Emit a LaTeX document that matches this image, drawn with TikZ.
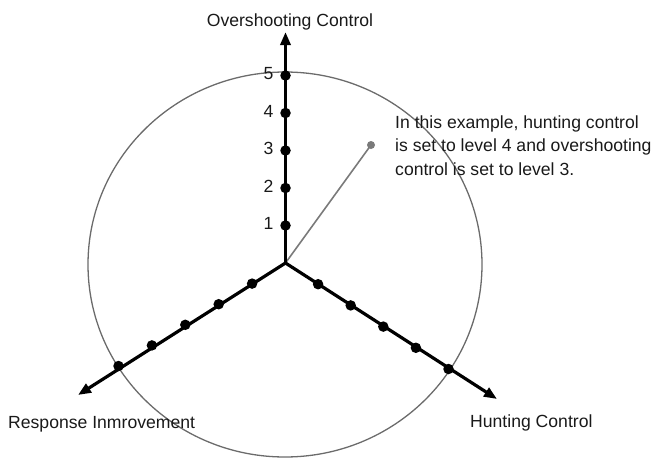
\documentclass[tikz,border=0pt]{standalone}
\usepackage{fontspec}
\setmainfont{Liberation Sans}
\usetikzlibrary{arrows.meta,calc}
\begin{document}
\begin{tikzpicture}[x=1pt,y=-1pt,
  axisline/.style={line width=3.2pt,-{Triangle[length=13pt,width=10pt]}},
  leveldot/.style={circle,fill=black,inner sep=0pt,minimum size=10.5pt},
  rim/.style={draw=black!58,line width=1.3pt},
  pointer/.style={draw=black!52,line width=1.6pt},
  label/.style={inner sep=0pt,font=\fontsize{17.6}{23.5}\selectfont,text=black!90},
]
\useasboundingbox (0,0) rectangle (656,458);

% outer rim
\draw[rim] (285,264.5) ellipse [x radius=197, y radius=192.5];

% centre and axis ends
\coordinate (O) at (285.5,263);
\coordinate (topEnd) at (285.5,32);
\coordinate (leftEnd) at (78,395);
\coordinate (rightEnd) at (497,399);

% setting pointer
\node[circle,fill=black!52,inner sep=0pt,minimum size=8pt] (set) at (371,145) {};
\draw[pointer] (O) -- (set.center);

% axes
\draw[axisline] (O) -- (topEnd);
\draw[axisline] (O) -- (leftEnd);
\draw[axisline] (O) -- (rightEnd);

% level dots and numbers on the vertical axis
\foreach \k in {1,...,5} {
  \node[leveldot] (u\k) at ($(O)+(0,-37.5*\k)$) {};
  \node[label,anchor=east] (n\k) at ($(u\k)+(-12,-2)$) {\k};
}
% level dots on the lower axes
\foreach \k in {1,...,5} {
  \node[leveldot] (l\k) at ($(O)+(-33.4*\k,20.6*\k)$) {};
  \node[leveldot] (r\k) at ($(O)+(32.6*\k,21.2*\k)$) {};
}

% axis titles
\node[label,anchor=base] (tOver) at (290,26) {Overshooting Control};
\node[label,anchor=base west] (tResp) at (8,428) {Response Inmrovement};
\node[label,anchor=base west] (tHunt) at (470,427) {Hunting Control};

% note (anchored at the baseline of its last line)
\node[label,anchor=base west,align=left] (note) at (395,175)
  {In this example, hunting control\\is set to level 4 and overshooting\\control is set to level 3.};
\end{tikzpicture}
\end{document}
